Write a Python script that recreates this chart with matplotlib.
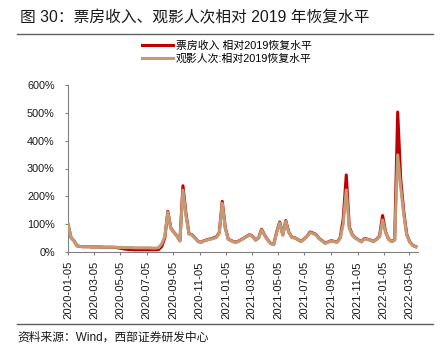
import matplotlib
matplotlib.use("Agg")
import matplotlib.pyplot as plt
import matplotlib.dates as mdates
from matplotlib.ticker import FuncFormatter
from matplotlib.lines import Line2D
import pandas as pd

plt.rcParams['font.family'] = ['Liberation Sans', 'Noto Sans CJK SC', 'DejaVu Sans']

start_date = "2020-01-05"

# 观影人次: 相对2019恢复水平 (%), weekly
audience = [100, 52, 40, 22, 20, 19, 19, 19, 18, 18,
            18, 18, 17, 17, 17, 17, 17, 16, 16, 16,
            16, 16, 15, 15, 15, 15, 15, 15, 14, 14,
            16, 30, 55, 143, 85, 70, 57, 40, 222, 130,
            65, 61, 50, 38, 34, 40, 43, 46, 48, 52,
            67, 175, 85, 45, 40, 35, 36, 42, 48, 55,
            61, 56, 42, 50, 80, 60, 43, 30, 26, 70,
            105, 60, 110, 70, 52, 50, 44, 37, 45, 55,
            70, 66, 62, 48, 40, 31, 35, 40, 37, 35,
            50, 100, 223, 85, 60, 50, 43, 36, 48, 45,
            42, 37, 45, 55, 115, 70, 45, 37, 42, 349,
            232, 135, 60, 35, 23, 19]

# 票房收入: 相对2019恢复水平 (%), weekly
box_office = [100, 52, 40, 22, 20, 19, 19, 19, 18, 18,
              18, 18, 17, 17, 17, 17, 16, 14, 12, 10,
              9, 9, 8, 8, 8, 8, 8, 8, 8, 8,
              9, 20, 50, 146, 86, 71, 58, 40, 238, 138,
              66, 62, 51, 38, 35, 41, 44, 47, 50, 54,
              69, 182, 88, 46, 41, 36, 37, 43, 49, 56,
              62, 57, 43, 51, 82, 61, 44, 31, 27, 72,
              108, 62, 113, 72, 53, 51, 45, 38, 46, 56,
              72, 68, 63, 49, 41, 32, 36, 41, 38, 36,
              52, 120, 277, 90, 62, 51, 44, 37, 49, 46,
              43, 38, 46, 57, 131, 72, 46, 38, 44, 503,
              262, 145, 63, 36, 24, 19]

dates = pd.date_range(start_date, periods=len(audience), freq="7D")

tick_dates = pd.date_range("2020-01-01", "2022-03-01", freq="2MS") + pd.Timedelta(days=4)
y_ticks = [0, 100, 200, 300, 400, 500, 600]

label_box = "票房收入 相对2019恢复水平"
label_aud = "观影人次:相对2019恢复水平"
title = "图 30：票房收入、观影人次相对 2019 年恢复水平"
source = "资料来源：Wind，西部证券研发中心"

red = "#C00000"
tan = "#C49A74"

fig = plt.figure(figsize=(4.42, 3.53), dpi=100)
ax = fig.add_axes([68/442, 1-252/353, (418-68)/442, (252-85)/353])

ax.plot(dates, box_office, color=red, lw=2.2, solid_joinstyle="round", zorder=2)
ax.plot(dates, audience, color=tan, lw=2.2, solid_joinstyle="round", zorder=3)

ax.set_xlim(pd.Timestamp("2020-01-05"), pd.Timestamp("2022-03-25"))
ax.set_ylim(0, 600)
ax.set_yticks(y_ticks)
ax.yaxis.set_major_formatter(FuncFormatter(lambda v, p: f"{int(v)}%"))
ax.set_xticks(tick_dates)
ax.xaxis.set_major_formatter(mdates.DateFormatter("%Y-%m-%d"))
for lab in ax.get_xticklabels():
    lab.set_rotation(90)

for s in ["top", "right"]:
    ax.spines[s].set_visible(False)
for s in ["left", "bottom"]:
    ax.spines[s].set_color("#808080")
    ax.spines[s].set_linewidth(0.8)
ax.tick_params(axis="both", colors="#808080", length=2.5, width=0.8, labelcolor="#1a1a1a")
ax.tick_params(axis="y", pad=7, labelsize=7.8)
ax.tick_params(axis="x", pad=4, labelsize=8.1)

handles = [Line2D([], [], color=red, lw=2.2), Line2D([], [], color=tan, lw=2.2)]
fig.legend(handles, [label_box, label_aud], loc="upper left",
           bbox_to_anchor=(142/442, 1-41/353), frameon=False, fontsize=7.8,
           borderaxespad=0, borderpad=0, handlelength=2.9, handletextpad=0.25,
           labelspacing=0.2)

fig.text(20/442, 1-18/353, title, fontsize=11.3, va="center", ha="left", color="#1a1a1a")
fig.add_artist(Line2D([17/442, 433/442], [1-33.5/353, 1-33.5/353], color="#606060", lw=1.0))
fig.add_artist(Line2D([17/442, 433/442], [1-323.5/353, 1-323.5/353], color="#606060", lw=1.0))
fig.text(17/442, 1-338/353, source, fontsize=8.5, va="center", ha="left", color="#1a1a1a")

fig.savefig("out.png", dpi=100)
